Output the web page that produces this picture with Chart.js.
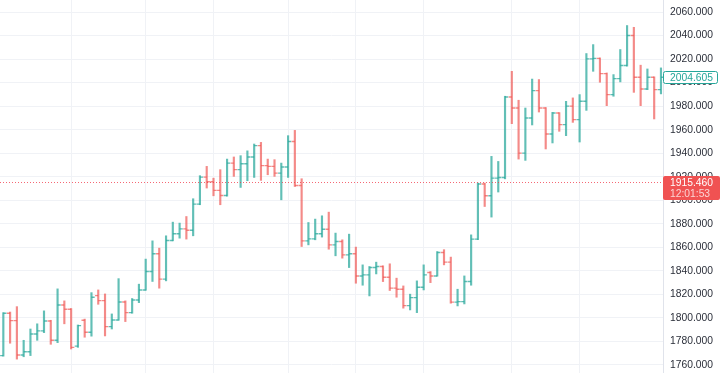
<!DOCTYPE html>
<html>
<head>
<meta charset="utf-8">
<script src="https://cdn.jsdelivr.net/npm/chart.js@4.4.1/dist/chart.umd.min.js"></script>
<style>
    html, body { margin: 0; padding: 0; background: #fff; }
    #wrap { width: 720px; height: 373px; }
</style>
</head>
<body>
<div id="wrap"><canvas id="ohlcChart" width="720" height="373"></canvas></div>
<script>
// OHLC values, one entry per bar
const opens = [
    1768, 1804, 1797.7, 1768.5, 1771.3, 1786.4, 1789, 1797.4, 1781, 1811,
    1807.4, 1776, 1798, 1787.8, 1819, 1814.7, 1792.6, 1798.3, 1813.6, 1804.5,
    1815.3, 1823.8, 1839.4, 1854.5, 1833, 1865.8, 1871.5, 1875.7, 1874.5, 1896.7,
    1919.7, 1915.7, 1908.4, 1904, 1931.6, 1926, 1931, 1936.8, 1946.4, 1929.4,
    1928.8, 1923.1, 1928.3, 1950, 1912.6, 1865.5, 1867.2, 1871.5, 1875.4, 1862.1,
    1864.9, 1853.6, 1854.5, 1835.7, 1836.6, 1842.8, 1843.7, 1834.6, 1825.3, 1824.4,
    1810.5, 1817.3, 1826.1, 1838.6, 1835.7, 1855.6, 1847.4, 1813.4, 1813.9, 1830.9,
    1867, 1913.8, 1903.8, 1918.8, 1919.3, 1987.8, 1978.4, 1940.1, 1969.9, 1993.2,
    1978.4, 1956.3, 1974.2, 1964.3, 1980, 1968.5, 1984.1, 2020.2, 2020.6, 2007.6,
    1989.8, 2003.4, 2014.5, 2040, 2004.5, 1994.6, 2004.5, 1994
];
const highs = [
    1804.5, 1805, 1809.6, 1781, 1790.6, 1795, 1806, 1798, 1824.7, 1814.5,
    1808, 1794, 1799, 1821.5, 1823.8, 1820.4, 1803.4, 1833.4, 1814.5, 1816.5,
    1828.7, 1850, 1865.5, 1859.3, 1869.8, 1881.4, 1880.6, 1886.2, 1901.3, 1920.9,
    1928.8, 1918.8, 1926, 1935, 1936.8, 1937.9, 1942, 1947.8, 1949.2, 1935,
    1934.5, 1931.6, 1954.9, 1959.4, 1918.3, 1881.1, 1884, 1886.8, 1889.9, 1872.1,
    1866.4, 1871.2, 1860.2, 1845.1, 1843.7, 1847.4, 1844.3, 1846, 1833.8, 1827.2,
    1820.2, 1831.5, 1845.1, 1839.4, 1856.4, 1858, 1851.7, 1824.4, 1835.7, 1870.6,
    1914.6, 1914.6, 1937.3, 1933, 1988.4, 2009.6, 1985, 1978.4, 2003, 2002.6,
    1978.8, 1974.7, 1974.5, 1984.1, 1987, 1989.8, 2024.7, 2032.3, 2021, 2008.2,
    2006.8, 2028.1, 2048.5, 2047, 2014.8, 2011.6, 2004.9, 2012.5
];
const lows = [
    1767.5, 1778.5, 1765, 1767, 1768, 1781, 1787.5, 1777.6, 1779, 1795,
    1773.6, 1775, 1783.6, 1784.5, 1811.6, 1784.7, 1790.6, 1798, 1796.9, 1804,
    1813, 1823.5, 1831, 1825.3, 1831.5, 1865.5, 1867.8, 1867, 1869.8, 1896.2,
    1910.4, 1903.8, 1896.2, 1903.5, 1920.3, 1910.9, 1916.6, 1919.4, 1916.9, 1921.7,
    1920.3, 1900.4, 1919.4, 1911.7, 1860.7, 1862.1, 1866.4, 1868.7, 1858.4, 1852.8,
    1850.8, 1842.8, 1829.5, 1827.8, 1818.7, 1837.4, 1830.9, 1823.3, 1817.6, 1808.3,
    1806.8, 1804.5, 1823.8, 1830, 1835.5, 1845.1, 1812.5, 1810.2, 1811.9, 1827.8,
    1866.5, 1894.7, 1885.7, 1907, 1918.2, 1965.1, 1935, 1933.9, 1964, 1975,
    1943.6, 1948.7, 1958.6, 1954.9, 1966.2, 1949.5, 1976.4, 2009.6, 2000.3, 1980.4,
    1988.4, 2000.6, 2014, 1991.7, 1980.4, 1994, 1969.1, 1990.4
];
const closes = [
    1804, 1797.7, 1768.5, 1771.3, 1786.4, 1789, 1797.4, 1781, 1811, 1807.4,
    1775, 1793.5, 1787.8, 1817.6, 1814.7, 1792.6, 1798.3, 1813.6, 1804.5, 1815.3,
    1823.8, 1839.4, 1854.5, 1833, 1865.8, 1871.5, 1875.7, 1874.5, 1896.7, 1919.7,
    1915.7, 1908.4, 1904, 1931.6, 1926, 1931, 1936.8, 1946.4, 1929.4, 1928.8,
    1923.1, 1928.3, 1950, 1912.6, 1865.5, 1867.2, 1871.5, 1875.4, 1862.1, 1864.9,
    1853.6, 1854.5, 1835.7, 1836.6, 1842.8, 1843.7, 1834.6, 1825.3, 1824.4, 1810.5,
    1817.3, 1826.1, 1836.6, 1835.7, 1855.6, 1847.4, 1813.4, 1813.9, 1830.9, 1867,
    1913.8, 1903.8, 1918.8, 1919.3, 1987.8, 1978.4, 1940.1, 1969.9, 1993.2, 1978.4,
    1956.3, 1974.2, 1964.3, 1980, 1968.5, 1984.1, 2020.2, 2020.6, 2007.6, 1989.8,
    2003.4, 2014.5, 2040, 2004.5, 1994.6, 2004.5, 1994, 2004.605
];

// bar indexes where the vertical time grid lines fall
const timeGrid = [10, 21, 31, 42, 52, 62, 75, 85];
const priceTicks = [1760, 1780, 1800, 1820, 1840, 1860, 1880, 1900, 1920, 1940, 1960, 1980, 2000, 2020, 2040, 2060];
const lastPrice = 2004.605;
const markPrice = 1915.460;
const markTime = "12:01:53";

const UP = "rgba(38, 166, 154, 0.72)";
const DOWN = "rgba(239, 83, 80, 0.68)";
const FONT = "'Liberation Sans', Arial, sans-serif";

const isUp = i => closes[i] >= opens[i];

// open tick on the left, close tick on the right of every bar
const ohlcTicks = {
    id: "ohlcTicks",
    afterDatasetsDraw(chart) {
        const { ctx, scales: { x, y } } = chart;
        ctx.save();
        ctx.lineWidth = 1.4;
        opens.forEach((o, i) => {
            const px = x.getPixelForValue(i);
            const yo = y.getPixelForValue(o);
            const yc = y.getPixelForValue(closes[i]);
            ctx.strokeStyle = isUp(i) ? UP : DOWN;
            ctx.beginPath();
            ctx.moveTo(px - 3.2, yo);
            ctx.lineTo(px, yo);
            ctx.moveTo(px, yc);
            ctx.lineTo(px + 3.2, yc);
            ctx.stroke();
        });
        ctx.restore();
    }
};

// dotted price line plus the two price labels on the axis
const priceLabels = {
    id: "priceLabels",
    afterDraw(chart) {
        const { ctx, chartArea, scales: { y } } = chart;
        const axisLeft = chartArea.right;
        ctx.save();

        const ym = Math.round(y.getPixelForValue(markPrice)) + 0.5;
        ctx.strokeStyle = "rgba(242, 54, 69, 0.75)";
        ctx.lineWidth = 1;
        ctx.setLineDash([1, 2]);
        ctx.beginPath();
        ctx.moveTo(chartArea.left, ym);
        ctx.lineTo(axisLeft, ym);
        ctx.stroke();
        ctx.setLineDash([]);

        ctx.font = "10.3px " + FONT;
        ctx.textBaseline = "middle";
        ctx.textAlign = "left";

        // red label: price and time
        ctx.fillStyle = "#f05252";
        ctx.beginPath();
        ctx.roundRect(axisLeft, ym - 6.5, 720 - axisLeft, 24, 2);
        ctx.fill();
        ctx.fillStyle = "#ffffff";
        ctx.fillText(markPrice.toFixed(3), axisLeft + 7, ym + 1);
        ctx.fillStyle = "rgba(255,255,255,0.75)";
        ctx.fillText(markTime, axisLeft + 7, ym + 12);

        // last price box
        const yl = Math.round(y.getPixelForValue(lastPrice)) + 0.5;
        ctx.fillStyle = "#ffffff";
        ctx.strokeStyle = "#26a69a";
        ctx.beginPath();
        ctx.roundRect(axisLeft + 0.5, yl - 6, 54, 12, 2);
        ctx.fill();
        ctx.stroke();
        ctx.fillStyle = "#26a69a";
        ctx.fillText(lastPrice.toFixed(3), axisLeft + 7, yl + 0.5);

        ctx.restore();
    }
};

const ctx = document.getElementById("ohlcChart").getContext("2d");
new Chart(ctx, {
    type: "bar",
    data: {
        datasets: [{
            data: opens.map((o, i) => ({ x: i, y: [lows[i], highs[i]] })),
            backgroundColor: opens.map((o, i) => isUp(i) ? UP : DOWN),
            borderWidth: 0,
            barThickness: 1.5
        }]
    },
    options: {
        responsive: false,
        animation: false,
        devicePixelRatio: 1,
        layout: { padding: 0 },
        plugins: { legend: { display: false }, tooltip: { enabled: false } },
        scales: {
            x: {
                type: "linear",
                offset: false,
                min: -0.49,
                max: 97.3,
                afterBuildTicks: s => { s.ticks = timeGrid.map(v => ({ value: v })); },
                ticks: { display: false },
                grid: { color: "#f0f2f6", drawTicks: false, offset: false },
                border: { display: false }
            },
            y: {
                position: "right",
                min: 1753.2,
                max: 2070.2,
                afterBuildTicks: s => { s.ticks = priceTicks.map(v => ({ value: v })); },
                afterFit: s => { s.width = 57; s.paddingTop = 0; s.paddingBottom = 0; },
                ticks: {
                    padding: 7,
                    color: "#2a2e39",
                    font: { family: FONT, size: 10.3 },
                    callback: v => Number(v).toFixed(3)
                },
                grid: { color: "#f0f2f6", drawTicks: false },
                border: { color: "#e0e3eb" }
            }
        }
    },
    plugins: [ohlcTicks, priceLabels]
});
</script>
</body>
</html>
